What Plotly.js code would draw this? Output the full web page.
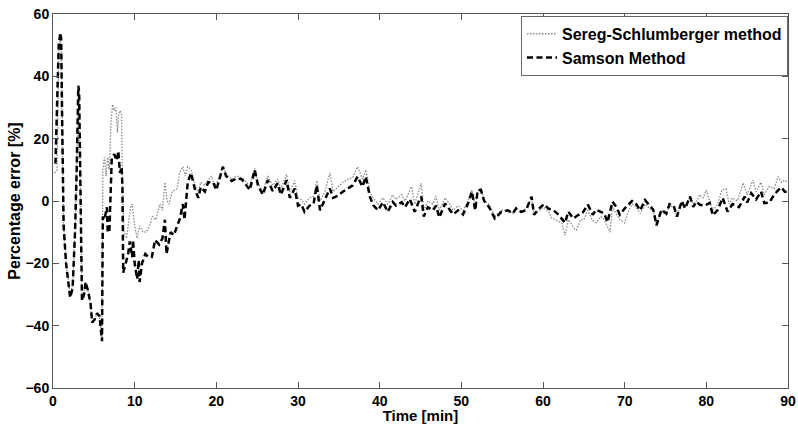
<!DOCTYPE html>
<html>
<head>
<meta charset="utf-8">
<script src="https://cdn.plot.ly/plotly-3.0.1.min.js"></script>
<style>html,body{margin:0;padding:0;background:#fff}#chart{width:798px;height:424px}</style>
</head>
<body>
<div id="chart"></div>
<script>
var samsonTime = [0.3,0.7,0.9,1.0,1.1,1.3,1.6,2.1,2.4,2.7,2.9,3.1,3.2,3.35,3.55,3.8,4.0,4.3,4.6,4.8,5.1,5.4,5.7,6.0,6.1,6.3,6.6,6.7,6.9,7.2,7.5,7.8,8.0,8.2,8.4,8.5,8.6,8.9,9.2,9.4,9.7,9.8,10.0,10.3,10.5,10.6,10.9,11.3,11.7,12.1,12.5,13.0,13.4,13.7,13.9,14.4,14.8,15.2,15.5,15.9,16.1,16.5,16.9,17.4,17.8,18.1,18.6,19.0,19.6,20.0,20.4,20.8,21.2,21.9,22.5,23.1,23.7,24.1,24.7,25.1,25.7,26.3,26.9,27.5,27.9,28.6,29.0,29.6,30.0,30.4,30.8,31.4,31.9,32.3,32.7,33.3,33.9,34.3,34.9,35.5,36.1,36.7,37.3,37.9,38.3,38.8,39.2,39.8,40.4,41.0,41.6,42.0,42.7,43.1,43.7,44.3,44.9,45.1,45.4,45.9,46.5,46.9,47.3,48.0,48.6,49.0,49.6,50.2,50.8,51.3,51.7,52.0,52.4,52.8,53.4,54.1,54.9,55.7,56.3,56.7,57.3,57.9,58.6,58.9,59.5,60.1,60.7,61.3,61.9,62.7,63.1,63.7,64.3,64.8,65.5,66.1,66.5,67.1,67.5,67.9,68.5,69.0,69.4,70.0,70.5,70.9,71.3,71.9,72.5,73.1,73.5,73.9,74.5,75.1,75.5,76.0,76.4,77.0,77.4,78.0,78.4,78.8,79.2,79.8,80.4,80.8,81.4,82.0,82.6,83.2,84.0,84.7,85.0,85.5,86.1,86.7,87.1,87.7,88.3,88.8,89.2,89.6,89.9];
var samsonError = [12,50,54,52,30,-8,-20,-31,-28,-10,10,37,35,0,-32,-30,-26,-29,-33,-39,-38,-36,-37,-45,-5,-6,-2,-10,-10,14,15,13,16,9,11,5,-23,-20,-17,-13,-18,-12.5,-20,-25,-19,-26,-20,-17,-18,-18,-12.5,-14,-12,-6,-17,-10,-11,-8,-6,-1,-6,6,9,3.5,1,4.5,3,6,6,3.5,7.7,11,8,6.4,7.3,7,5,3.5,10,5,2,6.7,3.2,5.7,2,6.7,1,4,-1.5,-1,-3.5,-1.5,-1,5,-3,0.3,4,1,1.7,3,4,5,7.8,4.6,7.8,1.4,-1.3,-3,-0.4,-3.5,-0.3,-1.5,-0.4,-2,0.6,-3.5,0.6,1.4,-5,-2,-3,-1.5,-5.3,-0.8,-2.9,-4.3,-3,-4.3,-1,3,-3,3.5,3.5,0,-2,-5.6,-3.5,-3,-4,-2.4,-3.5,-3,1.4,-4.4,-2.5,-1,-2.5,-3,-4.4,-7,-3.4,-5.6,-4.5,-4,-1.2,-4.4,-2.8,-3.4,-4,-6.8,-0.2,-2,-4.4,-2.4,-1,0,-0.5,-3,0.3,-1.8,-2.8,-7.8,-2.8,-4,-1,-1.5,-5,0,-2.4,1.4,-1.9,-0.2,-1.2,-1.5,-0.6,-4.6,-2.8,1,-3.4,-1,-2,1.4,-0.5,2.5,0.5,3,-0.7,-0.5,2,3.5,4.4,3,3];

var seregTime = [0.2,0.5,0.7,0.9,1.0,1.1,1.3,1.6,2.1,2.4,2.7,2.9,3.1,3.2,3.35,3.55,3.8,4.0,4.3,4.6,4.8,5.1,5.4,5.7,6.0,6.1,6.3,6.5,6.7,6.9,7.1,7.3,7.5,7.7,7.9,8.0,8.2,8.4,8.5,8.7,9.0,9.3,9.5,9.7,10.0,10.3,10.6,11.0,11.4,11.8,12.2,12.6,13.1,13.4,13.7,14.0,14.2,14.6,15.2,15.5,15.9,16.2,16.5,16.9,17.4,17.8,18.1,18.6,18.8,19.4,19.8,20.3,20.8,21.2,21.9,22.5,23.1,23.7,24.1,24.7,25.1,25.7,26.3,26.9,27.5,27.9,28.6,29.0,29.6,30.0,30.4,30.8,31.4,31.9,32.3,32.7,33.3,33.9,34.3,34.9,35.5,36.1,36.7,37.3,37.9,38.3,38.8,39.2,39.8,40.4,41.0,41.6,42.0,42.7,43.1,43.9,44.3,45.1,45.4,45.9,46.5,46.9,47.3,48.0,48.6,49.0,49.6,50.2,50.8,51.3,51.7,52.0,52.4,52.8,53.4,54.1,54.9,55.7,56.3,56.7,57.3,57.9,58.6,58.9,59.5,60.1,60.7,61.1,61.9,62.3,62.7,63.1,63.9,64.1,64.6,65.0,65.5,66.0,66.5,67.1,67.5,68.2,68.5,69.0,69.4,70.0,70.5,70.9,71.3,71.9,72.5,73.1,73.5,73.9,74.5,75.1,75.5,76.0,76.4,77.0,77.4,78.0,78.4,78.8,79.2,79.6,80.0,80.4,80.8,81.4,81.9,82.4,82.8,83.2,83.8,84.5,85.0,85.7,86.1,86.7,87.1,87.7,88.3,88.8,89.2,89.6,89.9];
var seregError = [9,10,48,52,50,28,-8,-20,-30,-27,-10,10,36,34,0,-31,-29,-26,-29,-33,-39,-38,-36,-37,-45,10,14,8,14,10,25,31,29,30,22,27,29,28,5,-10,-12,-5,-2,-1,-8,-12,-8,-10,-10,-8,-5,-6,-1,-3,6,0,-1,3,4,9,11,8,11,10,5,3,6,5,6,8,5,7,11,8.5,7,8,7.5,6,5,10.5,6,3,8,5,7,4,8.5,3,6.5,1,0.5,-1,1,1.5,6.5,0,3,9,3,4.5,6,7,7.5,11,7,10,3,1,-1,1,-1,2,0.5,2,0,4.6,-1,5.7,-3,0,-1,1.5,-3,1,-1,-3,-1.5,-3,0,3.5,-2,3,4,0,-1,-5,-3,-3,-4,-2,-3.5,-2.5,1,-4,-3,-2,-3.5,-5.5,-6.5,-7,-11,-6,-9,-9.3,-6,-6,-3,-6,-7,-5,-6,-10,-2,-4,-6,-7,-3,-1,-1.5,-4,-1,-2.5,-3,-8,-3,-4.5,-1.5,-2,-5,0,-2,1.5,-1,0,2,1,3.5,0,-3,-1,3.5,3.9,-1,1,0,5.8,2,6.7,3,6,2,4.6,4,7.8,6,6.7,6];

var seriesNames = ['Sereg-Schlumberger method', 'Samson Method'];
var xTickVals = [0,10,20,30,40,50,60,70,80,90];
var yTickVals = [-60,-40,-20,0,20,40,60];

var fontFam = 'Liberation Sans, Arial, sans-serif';
var traces = [
  {x: seregTime, y: seregError, name: seriesNames[0], mode: 'lines', type: 'scatter',
   line: {color: '#8a8a8a', width: 1.3, dash: '1.5px,1.5px'}},
  {x: samsonTime, y: samsonError, name: seriesNames[1], mode: 'lines', type: 'scatter',
   line: {color: '#000000', width: 2.5, dash: '6px,3.5px'}}
];
var axisCommon = {
  showgrid: false, zeroline: false, showline: true, linecolor: '#555', linewidth: 1,
  mirror: 'ticks', ticks: 'inside', ticklen: 6, tickcolor: '#555',
  tickfont: {family: fontFam, size: 14, color: '#000', weight: 'bold'}
};
var layout = {
  width: 798, height: 424,
  margin: {l: 53, r: 10, t: 14, b: 36},
  paper_bgcolor: '#fff', plot_bgcolor: '#fff',
  showlegend: true,
  legend: {x: 1, y: 0.995, xanchor: 'right', yanchor: 'top', bgcolor: '#fff',
           bordercolor: '#666', borderwidth: 1,
           font: {family: fontFam, size: 16, color: '#000', weight: 'bold'},
           itemwidth: 30, tracegroupgap: 0, traceorder: 'normal'},
  xaxis: Object.assign({}, axisCommon, {range: [0, 90], tickvals: xTickVals,
    title: {text: 'Time [min]', standoff: 0, font: {family: fontFam, size: 15, color: '#000', weight: 'bold'}}}),
  yaxis: Object.assign({}, axisCommon, {range: [-60, 60], tickvals: yTickVals,
    title: {text: 'Percentage error [%]', standoff: 0, font: {family: fontFam, size: 16, color: '#000', weight: 'bold'}}})
};
Plotly.newPlot('chart', traces, layout, {displayModeBar: false, staticPlot: true});
</script>
</body>
</html>
